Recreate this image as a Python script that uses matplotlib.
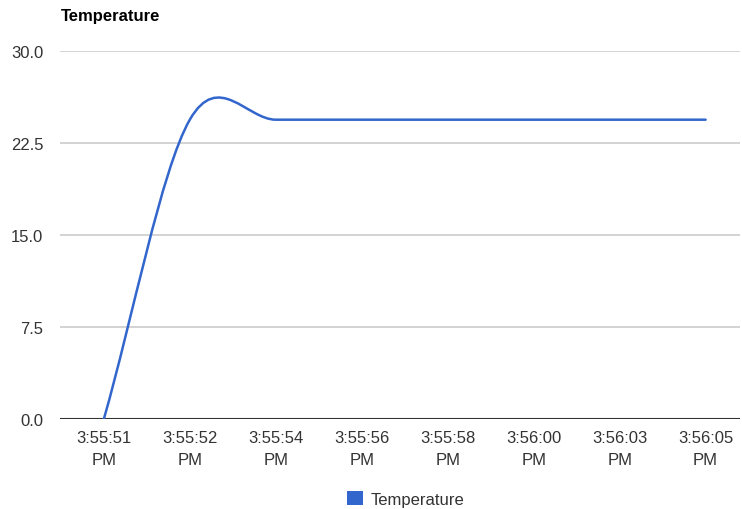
import matplotlib
matplotlib.use('Agg')
import matplotlib.pyplot as plt
from matplotlib.path import Path
from matplotlib.patches import PathPatch, Patch
import numpy as np

plt.rcParams['font.family'] = ['Liberation Sans', 'DejaVu Sans']

# 数据
time_labels = ['3:55:51\nPM', '3:55:52\nPM', '3:55:54\nPM', '3:55:56\nPM',
               '3:55:58\nPM', '3:56:00\nPM', '3:56:03\nPM', '3:56:05\nPM']
temperature = [0.0, 24.4, 24.4, 24.4, 24.4, 24.4, 24.4, 24.4]
y_ticks = [0.0, 7.5, 15.0, 22.5, 30.0]

line_color = '#3366cc'
text_color = '#333333'

fig = plt.figure(figsize=(7.42, 5.10), dpi=100)
ax = fig.add_axes([60 / 742, 1 - 420 / 510, 680 / 742, 368 / 510])

# 平滑曲线（Catmull-Rom -> 三次贝塞尔）
x = np.arange(len(temperature), dtype=float)
y = np.array(temperature, dtype=float)
n = len(y)
m = np.zeros(n)
for i in range(n):
    if i == 0:
        m[i] = y[1] - y[0]
    elif i == n - 1:
        m[i] = y[-1] - y[-2]
    else:
        m[i] = (y[i + 1] - y[i - 1]) / 2

verts = [(x[0], y[0])]
codes = [Path.MOVETO]
for i in range(n - 1):
    verts += [(x[i] + 1 / 3, y[i] + m[i] / 3),
              (x[i + 1] - 1 / 3, y[i + 1] - m[i + 1] / 3),
              (x[i + 1], y[i + 1])]
    codes += [Path.CURVE4] * 3
ax.add_patch(PathPatch(Path(verts, codes), facecolor='none',
                       edgecolor=line_color, linewidth=1.8,
                       capstyle='round', joinstyle='round', zorder=3))

ax.set_xlim(-0.51, 7.40)
ax.set_ylim(0, 30)
ax.set_yticks(y_ticks)
ax.set_yticklabels([f'{v:.1f}' for v in y_ticks])
ax.set_xticks(x)
ax.set_xticklabels(time_labels, linespacing=1.6)

ax.grid(True, axis='y', color='#cccccc', linewidth=1.2)
ax.axhline(0, color='#333333', linewidth=1.5, zorder=2)
ax.set_axisbelow(True)
for spine in ax.spines.values():
    spine.set_visible(False)
ax.tick_params(axis='both', length=0, labelsize=12, colors=text_color)
ax.tick_params(axis='y', pad=12)
ax.tick_params(axis='x', pad=8)

fig.text(61 / 742, 1 - 17 / 510, 'Temperature', fontsize=12,
         fontweight='bold', ha='left', va='center', color='#000000')

fig.legend(handles=[Patch(facecolor=line_color, edgecolor='none')],
           labels=['Temperature'], loc='center',
           bbox_to_anchor=(406 / 742, 1 - 500 / 510), frameon=False,
           handlelength=0.95, handleheight=0.95, handletextpad=0.45,
           fontsize=12, labelcolor=text_color)

fig.savefig('out.png', dpi=100, facecolor='white')
